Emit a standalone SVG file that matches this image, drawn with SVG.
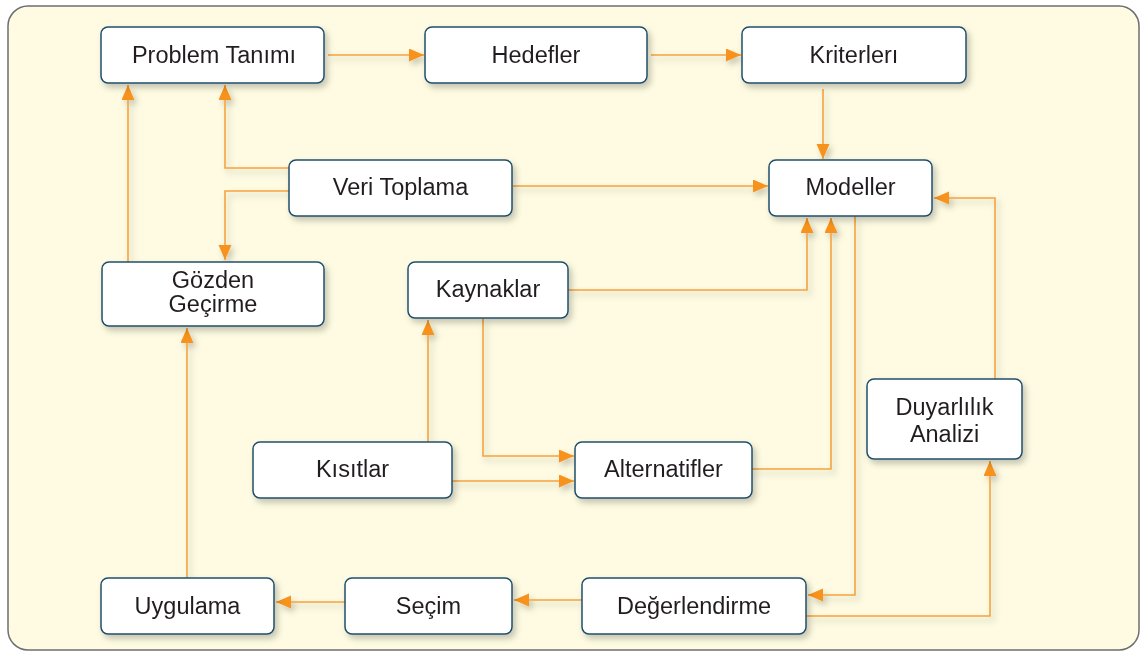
<svg xmlns="http://www.w3.org/2000/svg" width="1140" height="652" viewBox="0 0 1140 652">
  <style>
    .box { fill: #ffffff; stroke: #1f4f6b; stroke-width: 1.5; }
    .lbl { font-family: "Liberation Sans", Arial, sans-serif; font-size: 23.5px; fill: #231f20; text-anchor: middle; }
    .wire { fill: none; stroke: #f6a33e; stroke-width: 1.6; marker-end: url(#head); }
  </style>
  <defs>
    <marker id="head" markerUnits="userSpaceOnUse" markerWidth="16" markerHeight="14" refX="15" refY="6.5" orient="auto">
      <path d="M0,0 L15,6.5 L0,13 z" fill="#f7931e"/>
    </marker>
    <filter id="shade" x="-10%" y="-10%" width="130%" height="140%">
      <feDropShadow dx="3" dy="4" stdDeviation="3" flood-color="#000" flood-opacity="0.22"/>
    </filter>
  </defs>

  <!-- panel -->
  <rect x="8" y="6" width="1131" height="644" rx="20" ry="20" fill="#fefbe2" stroke="#6d6e71" stroke-width="1.5"/>

  <!-- connectors -->
  <g id="connectors" filter="url(#shade)">
    <path class="wire" d="M328,55 H424"/>
    <path class="wire" d="M651,55 H741"/>
    <path class="wire" d="M823,89 V159"/>
    <path class="wire" d="M513,186 H768"/>
    <path class="wire" d="M289,168 H225 V85"/>
    <path class="wire" d="M289,191 H225 V260"/>
    <path class="wire" d="M128,262 V85"/>
    <path class="wire" d="M187,578 V328"/>
    <path class="wire" d="M345,602 H276"/>
    <path class="wire" d="M582,600 H514"/>
    <path class="wire" d="M855,216 V595 H808"/>
    <path class="wire" d="M806,616 H990 V461"/>
    <path class="wire" d="M995,379 V198 H934"/>
    <path class="wire" d="M568,290 H807 V218"/>
    <path class="wire" d="M752,469 H831 V218"/>
    <path class="wire" d="M483,318 V456 H574"/>
    <path class="wire" d="M428,442 V320"/>
    <path class="wire" d="M452,481 H574"/>
  </g>

  <!-- nodes -->
  <g id="problem-tanimi" filter="url(#shade)">
    <rect class="box" x="101" y="27" width="223" height="56" rx="7"/>
    <text class="lbl" x="214" y="63">Problem Tanımı</text>
  </g>
  <g id="hedefler" filter="url(#shade)">
    <rect class="box" x="425" y="27" width="222" height="56" rx="7"/>
    <text class="lbl" x="536" y="63">Hedefler</text>
  </g>
  <g id="kriterleri" filter="url(#shade)">
    <rect class="box" x="742" y="27" width="224" height="56" rx="7"/>
    <text class="lbl" x="854" y="63">Kriterlerı</text>
  </g>
  <g id="veri-toplama" filter="url(#shade)">
    <rect class="box" x="289" y="160" width="223" height="56" rx="7"/>
    <text class="lbl" x="400.5" y="195">Veri Toplama</text>
  </g>
  <g id="modeller" filter="url(#shade)">
    <rect class="box" x="769" y="160" width="163" height="56" rx="7"/>
    <text class="lbl" x="850.5" y="195">Modeller</text>
  </g>
  <g id="gozden-gecirme" filter="url(#shade)">
    <rect class="box" x="102" y="262" width="222" height="64" rx="7"/>
    <text class="lbl" x="213" y="288">Gözden</text>
    <text class="lbl" x="213" y="312">Geçirme</text>
  </g>
  <g id="kaynaklar" filter="url(#shade)">
    <rect class="box" x="408" y="262" width="160" height="56" rx="7"/>
    <text class="lbl" x="488" y="297">Kaynaklar</text>
  </g>
  <g id="kisitlar" filter="url(#shade)">
    <rect class="box" x="253" y="442" width="199" height="56" rx="7"/>
    <text class="lbl" x="352.5" y="477">Kısıtlar</text>
  </g>
  <g id="alternatifler" filter="url(#shade)">
    <rect class="box" x="575" y="442" width="177" height="56" rx="7"/>
    <text class="lbl" x="663.5" y="477">Alternatifler</text>
  </g>
  <g id="duyarlilik-analizi" filter="url(#shade)">
    <rect class="box" x="867" y="379" width="155" height="80" rx="7"/>
    <text class="lbl" x="944.5" y="415">Duyarlılık</text>
    <text class="lbl" x="944.5" y="442">Analizi</text>
  </g>
  <g id="uygulama" filter="url(#shade)">
    <rect class="box" x="101" y="578" width="173" height="56" rx="7"/>
    <text class="lbl" x="187.5" y="614">Uygulama</text>
  </g>
  <g id="secim" filter="url(#shade)">
    <rect class="box" x="345" y="578" width="167" height="56" rx="7"/>
    <text class="lbl" x="428.5" y="614">Seçim</text>
  </g>
  <g id="degerlendirme" filter="url(#shade)">
    <rect class="box" x="582" y="578" width="224" height="56" rx="7"/>
    <text class="lbl" x="694" y="614">Değerlendirme</text>
  </g>
</svg>
